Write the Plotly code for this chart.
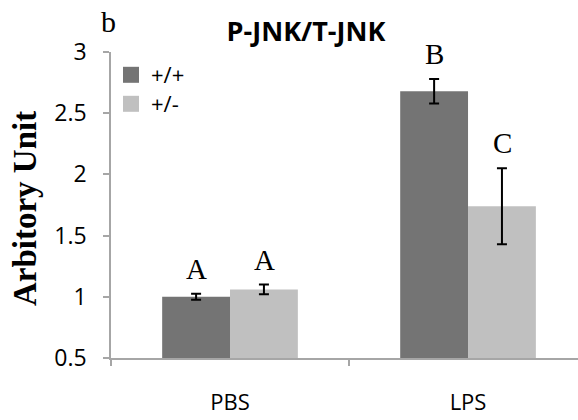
import plotly.graph_objects as go

categories = ["PBS", "LPS"]
series_names = ["+/+", "+/-"]
wt_values = [1.00, 2.68]
wt_errors = [0.025, 0.10]
het_values = [1.06, 1.74]
het_errors = [0.04, 0.31]
wt_letters = ["A", "B"]
het_letters = ["A", "C"]
y_ticks = [0.5, 1, 1.5, 2, 2.5, 3]

DARK = "#747474"
LIGHT = "#C0C0C0"
AXIS = "#A6A6A6"

fig = go.Figure()
for idx, (name, vals, errs, col) in enumerate([(series_names[0], wt_values, wt_errors, DARK),
                                               (series_names[1], het_values, het_errors, LIGHT)]):
    fig.add_trace(go.Bar(
        x=categories, y=vals, name=name, showlegend=False,
        marker=dict(color=col, line=dict(width=0)),
        error_y=dict(type="data", array=errs, visible=True, color="black",
                     thickness=2, width=5),
    ))
    # legend entry with larger square symbol
    fig.add_trace(go.Scatter(
        x=[None], y=[None], mode="markers", name=name,
        legend="legend" if idx == 0 else "legend2",
        marker=dict(symbol="square", size=17, color=col),
    ))

annotations = []
for i, cat in enumerate(categories):
    for letters, vals, errs, shift in [(wt_letters, wt_values, wt_errors, -34),
                                      (het_letters, het_values, het_errors, 34)]:
        annotations.append(dict(
            x=cat, y=vals[i] + errs[i], xref="x", yref="y",
            text=letters[i], showarrow=False, xshift=shift, yshift=7,
            yanchor="bottom",
            font=dict(family="Liberation Serif", size=29, color="black"),
        ))

annotations.append(dict(
    x=-0.184, y=0.487, xref="paper", yref="paper", text="<b>Arbitory Unit</b>",
    textangle=-90, showarrow=False, xanchor="center", yanchor="middle",
    font=dict(family="Liberation Serif", size=33, color="black"),
))
annotations.append(dict(
    x=-0.0064, y=1.10, xref="paper", yref="paper", text="b",
    showarrow=False, xanchor="center", yanchor="middle",
    font=dict(family="Liberation Serif", size=30, color="black"),
))

legend_common = dict(xanchor="left", yanchor="middle", bgcolor="rgba(0,0,0,0)",
                     font=dict(family="Open Sans", size=22, color="black"),
                     itemsizing="trace")

fig.update_layout(
    width=578, height=420,
    margin=dict(l=111, r=0, t=52, b=62),
    paper_bgcolor="white", plot_bgcolor="white",
    barmode="group", bargap=0.43, bargroupgap=0,
    title=dict(text="<b>P-JNK/T-JNK</b>", x=306 / 578, y=1 - 32 / 420,
               xref="container", yref="container", xanchor="center", yanchor="middle",
               font=dict(family="Open Sans", size=27, color="black")),
    legend=dict(x=0.0, y=(358 - 75) / 306, **legend_common),
    legend2=dict(x=0.0, y=(358 - 104) / 306, **legend_common),
    annotations=annotations,
    xaxis=dict(range=[-0.5, 1.462], showline=True, linecolor=AXIS, linewidth=1.5,
               ticks="outside", tickson="boundaries", ticklen=6, tickcolor=AXIS, tickwidth=1.5,
               showgrid=False, zeroline=False, ticklabelstandoff=24,
               tickfont=dict(family="Open Sans", size=22, color="black")),
    yaxis=dict(range=[0.5, 3], tickvals=y_ticks, showline=True, linecolor=AXIS, linewidth=1.5,
               ticks="outside", ticklen=6, tickcolor=AXIS, tickwidth=1.5,
               showgrid=False, zeroline=False, ticklabelstandoff=12,
               tickfont=dict(family="Open Sans", size=23, color="black")),
)

fig.write_html("out.html")
